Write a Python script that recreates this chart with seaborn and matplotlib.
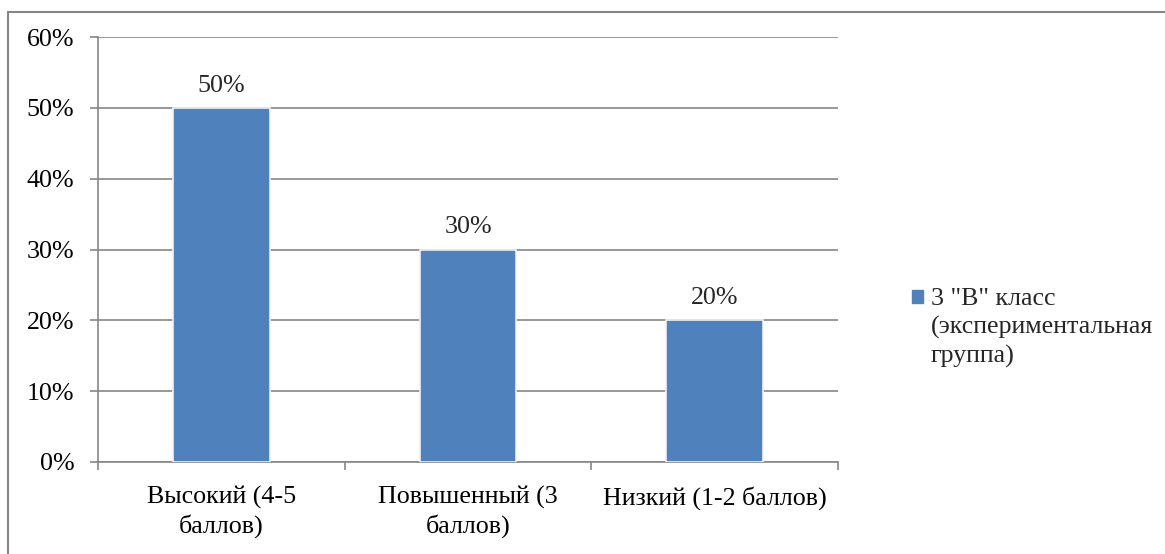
import matplotlib
matplotlib.use("Agg")
import matplotlib.pyplot as plt
from matplotlib.patches import Rectangle
from matplotlib.ticker import FixedLocator, PercentFormatter
import seaborn as sns
import pandas as pd

categories = ["Высокий (4-5\nбаллов)", "Повышенный (3\nбаллов)", "Низкий (1-2 баллов)"]
values = [50, 30, 20]
series_name = '3 "В" класс\n(экспериментальная\nгруппа)'
y_ticks = [0, 10, 20, 30, 40, 50, 60]

bar_color = "#4F81BD"
line_color = "#868686"
fs = 18.7
ls = 1.3

sns.set_theme(style="white")
plt.rcParams["font.family"] = ["Liberation Serif", "DejaVu Serif"]
plt.rcParams["font.size"] = fs

df = pd.DataFrame({"category": categories, "value": values})

fig = plt.figure(figsize=(11.65, 5.54), dpi=100)
ax = fig.add_axes([98 / 1165, 1 - 462 / 554, 740 / 1165, 425 / 554])

sns.barplot(data=df, x="category", y="value", color=bar_color, width=0.393,
            edgecolor="#f2f2f2", linewidth=1.2, ax=ax, zorder=3, saturation=1)

ax.set_ylim(0, 60)
ax.set_xlim(-0.5, 2.5)
ax.yaxis.set_major_locator(FixedLocator(y_ticks))
ax.yaxis.set_major_formatter(PercentFormatter(decimals=0))
ax.grid(axis="y", color=line_color, linewidth=1.2, zorder=0)
ax.set_axisbelow(True)

for s in ["top", "right"]:
    ax.spines[s].set_visible(False)
for s in ["left", "bottom"]:
    ax.spines[s].set_color(line_color)
    ax.spines[s].set_linewidth(1.2)

ax.tick_params(axis="y", which="major", direction="out", length=6, width=1.2,
               color=line_color, left=True, labelsize=fs, pad=11, labelcolor="black")
ax.tick_params(axis="x", which="major", length=0, labelsize=fs, pad=17, labelcolor="black")
ax.xaxis.set_minor_locator(FixedLocator([-0.5, 0.5, 1.5, 2.5]))
ax.tick_params(axis="x", which="minor", direction="out", length=6, width=1.2,
               color=line_color, bottom=True)
ax.set_xlabel("")
ax.set_ylabel("")

for lbl in ax.get_xticklabels():
    lbl.set_linespacing(ls)

for i, v in enumerate(values):
    ax.annotate(f"{v}%", (i, v), xytext=(0, 8), textcoords="offset points",
                ha="center", va="bottom", fontsize=fs)

handle = Rectangle((0, 0), 1, 1, color=bar_color)
leg = fig.legend([handle], [series_name], loc="upper left",
                 bbox_to_anchor=(912 / 1165, 1 - 288 / 554), frameon=False,
                 fontsize=fs, handlelength=0.42, handleheight=0.42, handletextpad=0.3,
                 borderaxespad=0, borderpad=0)
for t in leg.get_texts():
    t.set_linespacing(1.33)

# keep the legend swatch level with the first line of its label
sq = leg.legend_handles[0]
sq.set_y(sq.get_y() + fs * 1.33 * 1.17 - 7)

fig.patches.append(Rectangle((8 / 1165, -0.05), 1.0, 1 - 12 / 554 + 0.05,
                             transform=fig.transFigure, fill=False,
                             edgecolor=line_color, linewidth=1.5))

fig.savefig("out.png", dpi=100)
